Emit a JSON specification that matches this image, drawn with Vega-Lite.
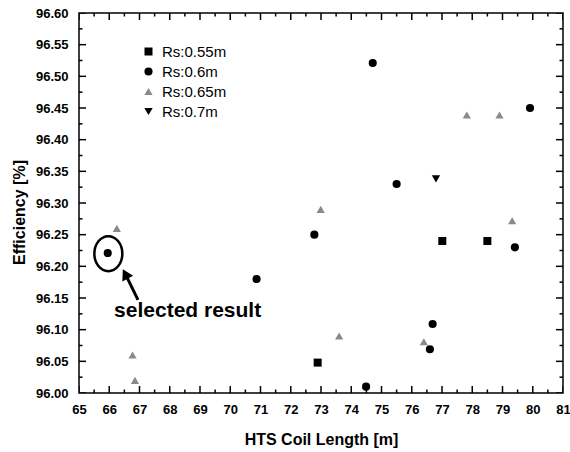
{
  "$schema": "https://vega.github.io/schema/vega-lite/v6.json",
  "width": 484,
  "height": 380,
  "autosize": {"type": "none"},
  "padding": {"left": 79, "top": 13, "right": 7, "bottom": 59},
  "background": "white",
  "config": {"view": {"stroke": "black", "strokeWidth": 1.5}, "font": "Liberation Sans"},
  "datasets": {
    "points": [
      {"series": "Rs:0.55m", "length": 72.89, "eff": 96.048},
      {"series": "Rs:0.55m", "length": 77.01, "eff": 96.24},
      {"series": "Rs:0.55m", "length": 78.5, "eff": 96.24},
      {"series": "Rs:0.6m", "length": 65.95, "eff": 96.221},
      {"series": "Rs:0.6m", "length": 70.87, "eff": 96.18},
      {"series": "Rs:0.6m", "length": 72.78, "eff": 96.25},
      {"series": "Rs:0.6m", "length": 74.49, "eff": 96.01},
      {"series": "Rs:0.6m", "length": 74.71, "eff": 96.521},
      {"series": "Rs:0.6m", "length": 75.5, "eff": 96.33},
      {"series": "Rs:0.6m", "length": 76.6, "eff": 96.069},
      {"series": "Rs:0.6m", "length": 76.69, "eff": 96.109},
      {"series": "Rs:0.6m", "length": 79.41, "eff": 96.23},
      {"series": "Rs:0.6m", "length": 79.91, "eff": 96.45},
      {"series": "Rs:0.65m", "length": 66.25, "eff": 96.26},
      {"series": "Rs:0.65m", "length": 66.77, "eff": 96.06},
      {"series": "Rs:0.65m", "length": 66.85, "eff": 96.02},
      {"series": "Rs:0.65m", "length": 72.99, "eff": 96.29},
      {"series": "Rs:0.65m", "length": 73.6, "eff": 96.09},
      {"series": "Rs:0.65m", "length": 76.4, "eff": 96.081},
      {"series": "Rs:0.65m", "length": 77.82, "eff": 96.439},
      {"series": "Rs:0.65m", "length": 78.9, "eff": 96.439},
      {"series": "Rs:0.65m", "length": 79.32, "eff": 96.272},
      {"series": "Rs:0.7m", "length": 76.8, "eff": 96.338}
    ],
    "xticks": [
      {"v": 65, "kind": "major"}, {"v": 65.5, "kind": "minor"}, {"v": 66, "kind": "major"}, {"v": 66.5, "kind": "minor"},
      {"v": 67, "kind": "major"}, {"v": 67.5, "kind": "minor"}, {"v": 68, "kind": "major"}, {"v": 68.5, "kind": "minor"},
      {"v": 69, "kind": "major"}, {"v": 69.5, "kind": "minor"}, {"v": 70, "kind": "major"}, {"v": 70.5, "kind": "minor"},
      {"v": 71, "kind": "major"}, {"v": 71.5, "kind": "minor"}, {"v": 72, "kind": "major"}, {"v": 72.5, "kind": "minor"},
      {"v": 73, "kind": "major"}, {"v": 73.5, "kind": "minor"}, {"v": 74, "kind": "major"}, {"v": 74.5, "kind": "minor"},
      {"v": 75, "kind": "major"}, {"v": 75.5, "kind": "minor"}, {"v": 76, "kind": "major"}, {"v": 76.5, "kind": "minor"},
      {"v": 77, "kind": "major"}, {"v": 77.5, "kind": "minor"}, {"v": 78, "kind": "major"}, {"v": 78.5, "kind": "minor"},
      {"v": 79, "kind": "major"}, {"v": 79.5, "kind": "minor"}, {"v": 80, "kind": "major"}, {"v": 80.5, "kind": "minor"},
      {"v": 81, "kind": "major"}
    ],
    "yticks": [
      {"v": 96.0, "kind": "major"}, {"v": 96.025, "kind": "minor"}, {"v": 96.05, "kind": "major"}, {"v": 96.075, "kind": "minor"},
      {"v": 96.1, "kind": "major"}, {"v": 96.125, "kind": "minor"}, {"v": 96.15, "kind": "major"}, {"v": 96.175, "kind": "minor"},
      {"v": 96.2, "kind": "major"}, {"v": 96.225, "kind": "minor"}, {"v": 96.25, "kind": "major"}, {"v": 96.275, "kind": "minor"},
      {"v": 96.3, "kind": "major"}, {"v": 96.325, "kind": "minor"}, {"v": 96.35, "kind": "major"}, {"v": 96.375, "kind": "minor"},
      {"v": 96.4, "kind": "major"}, {"v": 96.425, "kind": "minor"}, {"v": 96.45, "kind": "major"}, {"v": 96.475, "kind": "minor"},
      {"v": 96.5, "kind": "major"}, {"v": 96.525, "kind": "minor"}, {"v": 96.55, "kind": "major"}, {"v": 96.575, "kind": "minor"},
      {"v": 96.6, "kind": "major"}
    ]
  },
  "layer": [
    {
      "data": {"name": "points"},
      "mark": {"type": "point", "filled": true, "opacity": 1},
      "encoding": {
        "x": {
          "field": "length", "type": "quantitative",
          "scale": {"domain": [65, 81], "nice": false, "zero": false},
          "axis": {"orient": "bottom", "domain": false, "ticks": false, "grid": false, "values": [65,66,67,68,69,70,71,72,73,74,75,76,77,78,79,80,81], "format": "d", "labelFont": "Liberation Sans", "labelFontSize": 13, "labelFontWeight": "bold", "labelColor": "black", "labelPadding": 10, "labelOverlap": false, "labelFlush": false, "title": "HTS Coil Length [m]", "titleFont": "Liberation Sans", "titleFontSize": 16, "titleFontWeight": "bold", "titleColor": "black", "titlePadding": 15}
        },
        "y": {
          "field": "eff", "type": "quantitative",
          "scale": {"domain": [96.0, 96.6], "nice": false, "zero": false},
          "axis": {"orient": "left", "domain": false, "ticks": false, "grid": false, "values": [96,96.05,96.1,96.15,96.2,96.25,96.3,96.35,96.4,96.45,96.5,96.55,96.6], "format": ".2f", "labelFont": "Liberation Sans", "labelFontSize": 13, "labelFontWeight": "bold", "labelColor": "black", "labelPadding": 11, "labelOverlap": false, "labelFlush": false, "title": "Efficiency [%]", "titleFont": "Liberation Sans", "titleFontSize": 16, "titleFontWeight": "bold", "titleColor": "black", "titleX": -60, "titleY": 199, "titleBaseline": "middle", "titleAlign": "center"}
        },
        "shape": {
          "field": "series", "type": "nominal",
          "scale": {"domain": ["Rs:0.55m", "Rs:0.6m", "Rs:0.65m", "Rs:0.7m"], "range": ["square", "circle", "triangle-up", "triangle-down"]},
          "legend": {
            "orient": "none", "legendX": 62, "legendY": 31, "title": null,
            "labelFont": "Liberation Sans", "labelFontSize": 15, "labelColor": "black",
            "rowPadding": 4, "labelOffset": 6, "padding": 0, "symbolStrokeWidth": 0
          }
        },
        "color": {
          "field": "series", "type": "nominal",
          "scale": {"domain": ["Rs:0.55m", "Rs:0.6m", "Rs:0.65m", "Rs:0.7m"], "range": ["black", "black", "#8a8a8a", "black"]}
        },
        "size": {
          "field": "series", "type": "nominal",
          "scale": {"domain": ["Rs:0.55m", "Rs:0.6m", "Rs:0.65m", "Rs:0.7m"], "range": [64, 70, 35, 70]}
        }
      }
    },
    {
      "data": {"name": "xticks"},
      "mark": {"type": "tick", "orient": "vertical", "clip": true, "color": "black", "thickness": 1.5, "opacity": 1},
      "encoding": {
        "x": {"field": "v", "type": "quantitative",
          "axis": {"orient": "bottom", "domain": false, "ticks": false, "grid": false, "values": [65,66,67,68,69,70,71,72,73,74,75,76,77,78,79,80,81], "format": "d", "labelFont": "Liberation Sans", "labelFontSize": 13, "labelFontWeight": "bold", "labelColor": "black", "labelPadding": 10, "labelOverlap": false, "labelFlush": false, "title": "HTS Coil Length [m]", "titleFont": "Liberation Sans", "titleFontSize": 16, "titleFontWeight": "bold", "titleColor": "black", "titlePadding": 15}},
        "y": {"datum": 96.0, "type": "quantitative",
          "axis": {"orient": "left", "domain": false, "ticks": false, "grid": false, "values": [96,96.05,96.1,96.15,96.2,96.25,96.3,96.35,96.4,96.45,96.5,96.55,96.6], "format": ".2f", "labelFont": "Liberation Sans", "labelFontSize": 13, "labelFontWeight": "bold", "labelColor": "black", "labelPadding": 11, "labelOverlap": false, "labelFlush": false, "title": "Efficiency [%]", "titleFont": "Liberation Sans", "titleFontSize": 16, "titleFontWeight": "bold", "titleColor": "black", "titleX": -60, "titleY": 199, "titleBaseline": "middle", "titleAlign": "center"}},
        "size": {"condition": {"test": "datum.kind === 'major'", "value": 14}, "value": 7}
      }
    },
    {
      "data": {"name": "xticks"},
      "mark": {"type": "tick", "orient": "vertical", "clip": true, "color": "black", "thickness": 1.5, "opacity": 1},
      "encoding": {
        "x": {"field": "v", "type": "quantitative",
          "axis": {"orient": "bottom", "domain": false, "ticks": false, "grid": false, "values": [65,66,67,68,69,70,71,72,73,74,75,76,77,78,79,80,81], "format": "d", "labelFont": "Liberation Sans", "labelFontSize": 13, "labelFontWeight": "bold", "labelColor": "black", "labelPadding": 10, "labelOverlap": false, "labelFlush": false, "title": "HTS Coil Length [m]", "titleFont": "Liberation Sans", "titleFontSize": 16, "titleFontWeight": "bold", "titleColor": "black", "titlePadding": 15}},
        "y": {"datum": 96.6, "type": "quantitative",
          "axis": {"orient": "left", "domain": false, "ticks": false, "grid": false, "values": [96,96.05,96.1,96.15,96.2,96.25,96.3,96.35,96.4,96.45,96.5,96.55,96.6], "format": ".2f", "labelFont": "Liberation Sans", "labelFontSize": 13, "labelFontWeight": "bold", "labelColor": "black", "labelPadding": 11, "labelOverlap": false, "labelFlush": false, "title": "Efficiency [%]", "titleFont": "Liberation Sans", "titleFontSize": 16, "titleFontWeight": "bold", "titleColor": "black", "titleX": -60, "titleY": 199, "titleBaseline": "middle", "titleAlign": "center"}},
        "size": {"condition": {"test": "datum.kind === 'major'", "value": 14}, "value": 7}
      }
    },
    {
      "data": {"name": "yticks"},
      "mark": {"type": "tick", "orient": "horizontal", "clip": true, "color": "black", "thickness": 1.5, "opacity": 1},
      "encoding": {
        "y": {"field": "v", "type": "quantitative",
          "axis": {"orient": "left", "domain": false, "ticks": false, "grid": false, "values": [96,96.05,96.1,96.15,96.2,96.25,96.3,96.35,96.4,96.45,96.5,96.55,96.6], "format": ".2f", "labelFont": "Liberation Sans", "labelFontSize": 13, "labelFontWeight": "bold", "labelColor": "black", "labelPadding": 11, "labelOverlap": false, "labelFlush": false, "title": "Efficiency [%]", "titleFont": "Liberation Sans", "titleFontSize": 16, "titleFontWeight": "bold", "titleColor": "black", "titleX": -60, "titleY": 199, "titleBaseline": "middle", "titleAlign": "center"}},
        "x": {"datum": 65, "type": "quantitative",
          "axis": {"orient": "bottom", "domain": false, "ticks": false, "grid": false, "values": [65,66,67,68,69,70,71,72,73,74,75,76,77,78,79,80,81], "format": "d", "labelFont": "Liberation Sans", "labelFontSize": 13, "labelFontWeight": "bold", "labelColor": "black", "labelPadding": 10, "labelOverlap": false, "labelFlush": false, "title": "HTS Coil Length [m]", "titleFont": "Liberation Sans", "titleFontSize": 16, "titleFontWeight": "bold", "titleColor": "black", "titlePadding": 15}},
        "size": {"condition": {"test": "datum.kind === 'major'", "value": 14}, "value": 7}
      }
    },
    {
      "data": {"name": "yticks"},
      "mark": {"type": "tick", "orient": "horizontal", "clip": true, "color": "black", "thickness": 1.5, "opacity": 1},
      "encoding": {
        "y": {"field": "v", "type": "quantitative",
          "axis": {"orient": "left", "domain": false, "ticks": false, "grid": false, "values": [96,96.05,96.1,96.15,96.2,96.25,96.3,96.35,96.4,96.45,96.5,96.55,96.6], "format": ".2f", "labelFont": "Liberation Sans", "labelFontSize": 13, "labelFontWeight": "bold", "labelColor": "black", "labelPadding": 11, "labelOverlap": false, "labelFlush": false, "title": "Efficiency [%]", "titleFont": "Liberation Sans", "titleFontSize": 16, "titleFontWeight": "bold", "titleColor": "black", "titleX": -60, "titleY": 199, "titleBaseline": "middle", "titleAlign": "center"}},
        "x": {"datum": 81, "type": "quantitative",
          "axis": {"orient": "bottom", "domain": false, "ticks": false, "grid": false, "values": [65,66,67,68,69,70,71,72,73,74,75,76,77,78,79,80,81], "format": "d", "labelFont": "Liberation Sans", "labelFontSize": 13, "labelFontWeight": "bold", "labelColor": "black", "labelPadding": 10, "labelOverlap": false, "labelFlush": false, "title": "HTS Coil Length [m]", "titleFont": "Liberation Sans", "titleFontSize": 16, "titleFontWeight": "bold", "titleColor": "black", "titlePadding": 15}},
        "size": {"condition": {"test": "datum.kind === 'major'", "value": 14}, "value": 7}
      }
    },
    {
      "data": {"values": [{"length": 65.97, "eff": 96.22}]},
      "mark": {"type": "point", "shape": "M -0.8 0 A 0.8 1 0 1 1 0.8 0 A 0.8 1 0 1 1 -0.8 0 Z", "size": 1225, "filled": false, "stroke": "black", "strokeWidth": 2.5, "opacity": 1},
      "encoding": {
        "x": {"field": "length", "type": "quantitative",
          "axis": {"orient": "bottom", "domain": false, "ticks": false, "grid": false, "values": [65,66,67,68,69,70,71,72,73,74,75,76,77,78,79,80,81], "format": "d", "labelFont": "Liberation Sans", "labelFontSize": 13, "labelFontWeight": "bold", "labelColor": "black", "labelPadding": 10, "labelOverlap": false, "labelFlush": false, "title": "HTS Coil Length [m]", "titleFont": "Liberation Sans", "titleFontSize": 16, "titleFontWeight": "bold", "titleColor": "black", "titlePadding": 15}},
        "y": {"field": "eff", "type": "quantitative",
          "axis": {"orient": "left", "domain": false, "ticks": false, "grid": false, "values": [96,96.05,96.1,96.15,96.2,96.25,96.3,96.35,96.4,96.45,96.5,96.55,96.6], "format": ".2f", "labelFont": "Liberation Sans", "labelFontSize": 13, "labelFontWeight": "bold", "labelColor": "black", "labelPadding": 11, "labelOverlap": false, "labelFlush": false, "title": "Efficiency [%]", "titleFont": "Liberation Sans", "titleFontSize": 16, "titleFontWeight": "bold", "titleColor": "black", "titleX": -60, "titleY": 199, "titleBaseline": "middle", "titleAlign": "center"}}
      }
    },
    {
      "data": {"values": [{"length": 66.95, "eff": 96.147, "length2": 66.53, "eff2": 96.188}]},
      "mark": {"type": "rule", "color": "black", "strokeWidth": 3},
      "encoding": {
        "x": {"field": "length", "type": "quantitative",
          "axis": {"orient": "bottom", "domain": false, "ticks": false, "grid": false, "values": [65,66,67,68,69,70,71,72,73,74,75,76,77,78,79,80,81], "format": "d", "labelFont": "Liberation Sans", "labelFontSize": 13, "labelFontWeight": "bold", "labelColor": "black", "labelPadding": 10, "labelOverlap": false, "labelFlush": false, "title": "HTS Coil Length [m]", "titleFont": "Liberation Sans", "titleFontSize": 16, "titleFontWeight": "bold", "titleColor": "black", "titlePadding": 15}},
        "y": {"field": "eff", "type": "quantitative",
          "axis": {"orient": "left", "domain": false, "ticks": false, "grid": false, "values": [96,96.05,96.1,96.15,96.2,96.25,96.3,96.35,96.4,96.45,96.5,96.55,96.6], "format": ".2f", "labelFont": "Liberation Sans", "labelFontSize": 13, "labelFontWeight": "bold", "labelColor": "black", "labelPadding": 11, "labelOverlap": false, "labelFlush": false, "title": "Efficiency [%]", "titleFont": "Liberation Sans", "titleFontSize": 16, "titleFontWeight": "bold", "titleColor": "black", "titleX": -60, "titleY": 199, "titleBaseline": "middle", "titleAlign": "center"}},
        "x2": {"field": "length2"},
        "y2": {"field": "eff2"}
      }
    },
    {
      "data": {"values": [{"length": 66.53, "eff": 96.188}]},
      "mark": {"type": "point", "shape": "triangle-up", "size": 150, "angle": 332, "filled": true, "color": "black", "opacity": 1},
      "encoding": {
        "x": {"field": "length", "type": "quantitative",
          "axis": {"orient": "bottom", "domain": false, "ticks": false, "grid": false, "values": [65,66,67,68,69,70,71,72,73,74,75,76,77,78,79,80,81], "format": "d", "labelFont": "Liberation Sans", "labelFontSize": 13, "labelFontWeight": "bold", "labelColor": "black", "labelPadding": 10, "labelOverlap": false, "labelFlush": false, "title": "HTS Coil Length [m]", "titleFont": "Liberation Sans", "titleFontSize": 16, "titleFontWeight": "bold", "titleColor": "black", "titlePadding": 15}},
        "y": {"field": "eff", "type": "quantitative",
          "axis": {"orient": "left", "domain": false, "ticks": false, "grid": false, "values": [96,96.05,96.1,96.15,96.2,96.25,96.3,96.35,96.4,96.45,96.5,96.55,96.6], "format": ".2f", "labelFont": "Liberation Sans", "labelFontSize": 13, "labelFontWeight": "bold", "labelColor": "black", "labelPadding": 11, "labelOverlap": false, "labelFlush": false, "title": "Efficiency [%]", "titleFont": "Liberation Sans", "titleFontSize": 16, "titleFontWeight": "bold", "titleColor": "black", "titleX": -60, "titleY": 199, "titleBaseline": "middle", "titleAlign": "center"}}
      }
    },
    {
      "data": {"values": [{"length": 66.16, "eff": 96.12, "label": "selected result"}]},
      "mark": {"type": "text", "align": "left", "baseline": "alphabetic", "font": "Liberation Sans", "fontSize": 21, "fontWeight": "bold", "color": "black"},
      "encoding": {
        "x": {"field": "length", "type": "quantitative",
          "axis": {"orient": "bottom", "domain": false, "ticks": false, "grid": false, "values": [65,66,67,68,69,70,71,72,73,74,75,76,77,78,79,80,81], "format": "d", "labelFont": "Liberation Sans", "labelFontSize": 13, "labelFontWeight": "bold", "labelColor": "black", "labelPadding": 10, "labelOverlap": false, "labelFlush": false, "title": "HTS Coil Length [m]", "titleFont": "Liberation Sans", "titleFontSize": 16, "titleFontWeight": "bold", "titleColor": "black", "titlePadding": 15}},
        "y": {"field": "eff", "type": "quantitative",
          "axis": {"orient": "left", "domain": false, "ticks": false, "grid": false, "values": [96,96.05,96.1,96.15,96.2,96.25,96.3,96.35,96.4,96.45,96.5,96.55,96.6], "format": ".2f", "labelFont": "Liberation Sans", "labelFontSize": 13, "labelFontWeight": "bold", "labelColor": "black", "labelPadding": 11, "labelOverlap": false, "labelFlush": false, "title": "Efficiency [%]", "titleFont": "Liberation Sans", "titleFontSize": 16, "titleFontWeight": "bold", "titleColor": "black", "titleX": -60, "titleY": 199, "titleBaseline": "middle", "titleAlign": "center"}},
        "text": {"field": "label"}
      }
    }
  ]
}
